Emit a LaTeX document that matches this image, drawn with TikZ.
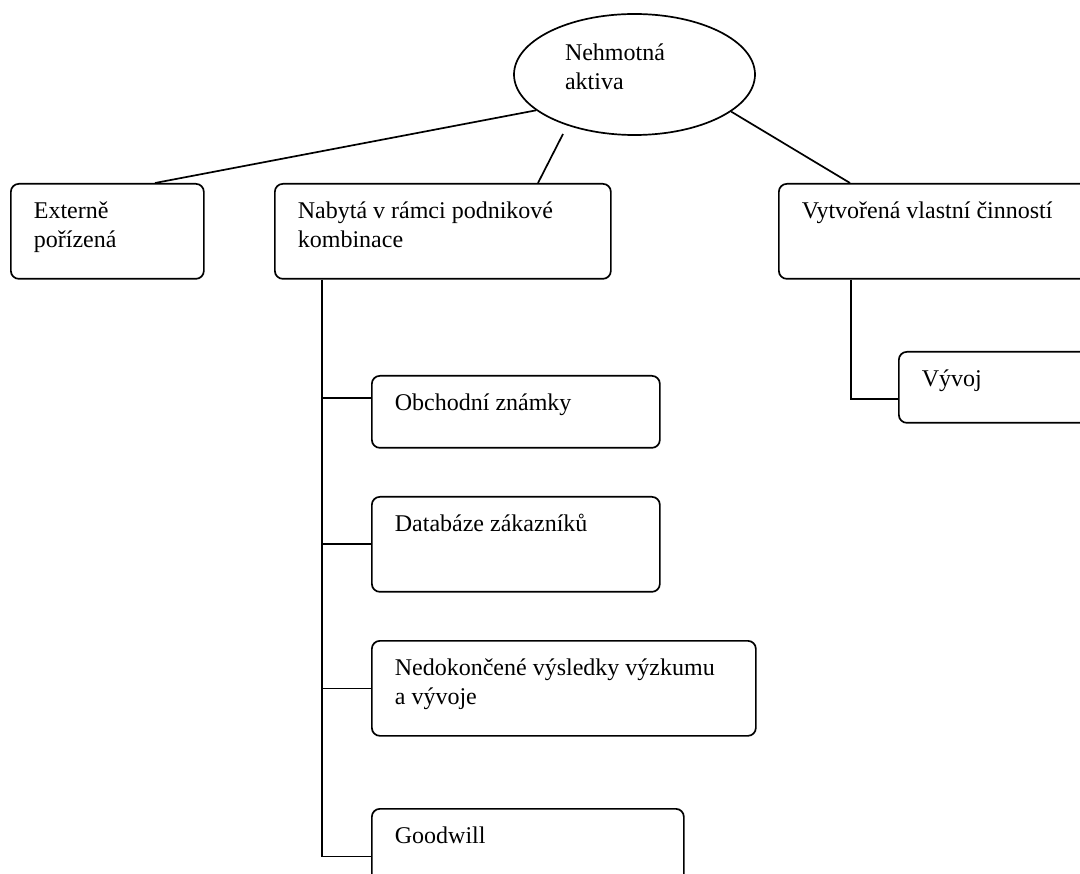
\documentclass[tikz,border=0pt]{standalone}
\usepackage{fontspec}
\setmainfont{Liberation Serif}
\usetikzlibrary{shapes.geometric}
\tikzset{box/.style={draw,rounded corners=8pt,line width=1.7pt,inner xsep=23pt,inner ysep=0pt,anchor=north west}}
\tikzset{link/.style={line width=1.7pt}}
\newcommand{\boxtext}[3]{\parbox[c][#2pt][t]{#1pt}{\raggedright\rule{0pt}{35pt}#3}}

\begin{document}
\begin{tikzpicture}[x=1pt,y=-1pt,font=\fontsize{24}{29}\selectfont]
                \clip (0,0) rectangle (1080,874);
                
                % Root
                \node[draw,ellipse,line width=1.7pt,inner sep=0pt,minimum width=241pt,minimum height=121pt] (nehm) at (634.5,74.5)
                    {\parbox[c][69pt][t]{139pt}{\raggedright\rule{0pt}{21pt}Nehmotná\\aktiva}};
                
                % First level
                \node[box] (ext) at (10,183) {\boxtext{147}{95}{Externě\\pořízená}};
                \node[box] (nab) at (274,183) {\boxtext{290}{95}{Nabytá v rámci podnikové\\kombinace}};
                \node[box] (vyt) at (778,183) {\boxtext{294}{95}{Vytvořená vlastní činností}};
                
                % Second level
                \node[box] (obch) at (371,375) {\boxtext{242}{72}{Obchodní známky}};
                \node[box] (datab) at (371,496) {\boxtext{242}{95}{Databáze zákazníků}};
                \node[box] (nedok) at (371,640) {\boxtext{338}{95}{Nedokončené výsledky výzkumu\\a vývoje}};
                \node[box] (goodw) at (371,808) {\boxtext{266}{95}{Goodwill}};
                \node[box] (vyv) at (898,351) {\boxtext{174}{71}{Vývoj}};
                
                % Links from root
                \coordinate (nehmgap) at ([shift={(-71.5pt,-59.5pt)}]nehm.center);
                \draw[link] (nehm.200) -- ([xshift=145pt]ext.north west);
                \draw[link] (nehmgap) -- ([xshift=264pt]nab.north west);
                \draw[link] (nehm.339.5) -- ([xshift=72pt]vyt.north west);
                
                % Spine under nab
                \coordinate (spine) at ([xshift=48pt]nab.south west);
                \coordinate (obchL) at ([yshift=-23pt]obch.north west);
                \draw[link] (spine) |- (goodw.west);
                \draw[link] (obchL) -- (obchL -| spine);
                \draw[link] (datab.west) -- (datab.west -| spine);
                \draw[link] (nedok.west) -- (nedok.west -| spine);
                
                % Spine under vyt
                \coordinate (vytspine) at ([xshift=73pt]vyt.south west);
                \coordinate (vyvL) at ([yshift=-48pt]vyv.north west);
                \draw[link] (vytspine) |- (vyvL);
            \end{tikzpicture}
\end{document}
